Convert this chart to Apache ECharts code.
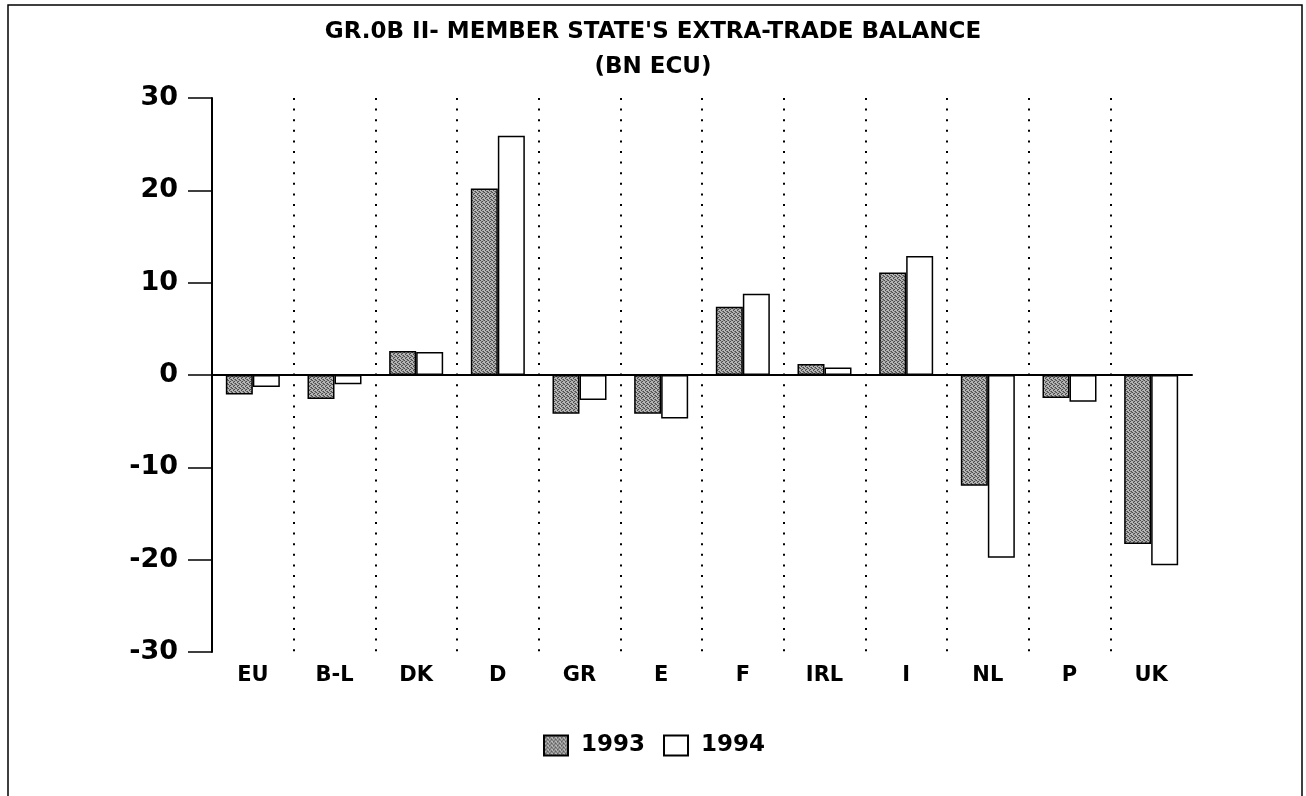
<!DOCTYPE html>
<html>
<head>
<meta charset="utf-8">
<title>Extra-trade balance</title>
<script src="https://cdn.jsdelivr.net/npm/echarts@6/dist/echarts.min.js"></script>
<style>
  html, body { margin: 0; padding: 0; background: #fff; }
  #chart { width: 1306px; height: 796px; }
</style>
</head>
<body>
<div id="chart"></div>
<script>
// data (BN ECU)
const countries = ['EU', 'B-L', 'DK', 'D', 'GR', 'E', 'F', 'IRL', 'I', 'NL', 'P', 'UK'];
const values1993 = [-2.1, -2.6, 2.6, 20.2, -4.2, -4.2, 7.4, 1.2, 11.1, -12.0, -2.5, -18.3];
const values1994 = [-1.3, -1.0, 2.5, 25.9, -2.7, -4.7, 8.8, 0.8, 12.9, -19.8, -2.9, -20.6];
const yTicks = [-30, -20, -10, 0, 10, 20, 30];

const FONT = 'DejaVu Sans';

// stippled grey fill like the printed 1993 bars
function makeStipple() {
    const c = document.createElement('canvas');
    c.width = 4;
    c.height = 4;
    const ctx = c.getContext('2d');
    ctx.fillStyle = '#b4b4b4';
    ctx.fillRect(0, 0, 4, 4);
    ctx.fillStyle = '#4a4a4a';
    ctx.fillRect(0, 0, 1, 1);
    ctx.fillRect(2, 1, 1, 1);
    ctx.fillRect(1, 2, 1, 1);
    ctx.fillRect(3, 3, 1, 1);
    ctx.fillStyle = '#777';
    ctx.fillRect(3, 0, 1, 1);
    ctx.fillRect(1, 1, 1, 1);
    ctx.fillRect(2, 3, 1, 1);
    return c;
}
const stipple = { image: makeStipple(), repeat: 'repeat' };

const chart = echarts.init(document.getElementById('chart'));

const option = {
    animation: false,
    backgroundColor: '#fff',
    title: {
        text: "GR.0B II- MEMBER STATE'S EXTRA-TRADE BALANCE\n(BN ECU)",
        left: 'center',
        top: 10,
        textStyle: {
            fontFamily: FONT,
            fontSize: 23,
            fontWeight: 'bold',
            color: '#000',
            lineHeight: 35
        }
    },
    // outer frame of the printed figure
    graphic: [{
        type: 'rect',
        shape: { x: 8, y: 5, width: 1294, height: 800 },
        style: { fill: 'none', stroke: '#000', lineWidth: 1.5 },
        silent: true
    }],
    legend: {
        data: ['1993', '1994'],
        icon: 'rect',
        left: 538,
        top: 729,
        itemWidth: 24,
        itemHeight: 20,
        itemGap: 18,
        textStyle: {
            fontFamily: FONT,
            fontWeight: 'bold',
            fontSize: 23,
            color: '#000',
            padding: [0, 0, 0, 8]
        }
    },
    grid: {
        left: 212,
        right: 114,
        top: 98,
        bottom: 144
    },
    xAxis: {
        type: 'category',
        data: countries,
        axisLine: { lineStyle: { color: '#000', width: 2 } },
        axisTick: { show: false },
        axisLabel: {
            margin: 13,
            color: '#000',
            fontFamily: FONT,
            fontWeight: 'bold',
            fontSize: 21
        },
        splitLine: {
            show: true,
            showMinLine: false,
            showMaxLine: false,
            lineStyle: { color: '#000', width: 2, type: [2, 8.6] }
        }
    },
    yAxis: {
        type: 'value',
        min: yTicks[0],
        max: yTicks[yTicks.length - 1],
        interval: 10,
        axisLine: { show: true, lineStyle: { color: '#000', width: 2 } },
        axisTick: { show: true, length: 24, lineStyle: { color: '#000', width: 1.5 } },
        splitLine: { show: false },
        axisLabel: {
            margin: 34,
            color: '#000',
            fontFamily: FONT,
            fontWeight: 'bold',
            fontSize: 27
        }
    },
    series: [
        {
            name: '1993',
            type: 'bar',
            data: values1993,
            barWidth: 27,
            barGap: '0%',
            itemStyle: { color: stipple, borderColor: '#000', borderWidth: 1.5 },
            markLine: {
                silent: true,
                symbol: 'none',
                label: { show: false },
                lineStyle: { color: '#000', type: 'solid', width: 1.5 },
                data: [{ yAxis: 0 }]
            }
        },
        {
            name: '1994',
            type: 'bar',
            data: values1994,
            barWidth: 27,
            itemStyle: { color: '#fff', borderColor: '#000', borderWidth: 1.5 }
        }
    ]
};

chart.setOption(option);
</script>
</body>
</html>
